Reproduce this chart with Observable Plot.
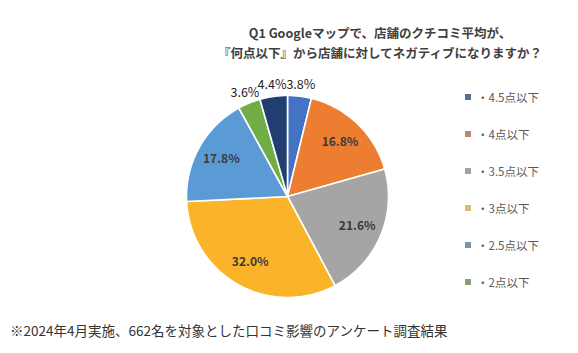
<!DOCTYPE html>
<html>
<head>
<meta charset="utf-8">
<script src="https://cdn.jsdelivr.net/npm/d3@7"></script>
<script src="https://cdn.jsdelivr.net/npm/@observablehq/plot@0.6"></script>
<style>
  html, body { margin: 0; padding: 0; background: #fff; }
  #wrap { position: relative; width: 578px; height: 353px; overflow: hidden; font-family: "Noto Sans CJK JP", "Noto Sans", sans-serif; }
  #title { position: absolute; left: 180px; width: 400px; top: 23px; text-align: center; font-size: 12.5px; font-weight: bold; color: #404040; line-height: 20px; }
  #legend { position: absolute; left: 465px; top: 89px; }
  .li { height: 37px; display: flex; align-items: flex-start; font-size: 11.5px; color: #595959; line-height: 16px; }
  .sw { width: 6px; height: 6px; margin-top: 5px; margin-right: 6px; }
  #caption { position: absolute; left: 10px; top: 320px; font-size: 13.5px; color: #333; }
  #chart { position: absolute; left: 0; top: 0; }
</style>
</head>
<body>
<div id="wrap">
  <div id="chart"></div>
  <div id="title"></div>
  <div id="legend"></div>
  <div id="caption"></div>
</div>
<script>
const titleLines = ["Q1 Googleマップで、店舗のクチコミ平均が、", "『何点以下』から店舗に対してネガティブになりますか？"];
const caption = "※2024年4月実施、662名を対象とした口コミ影響のアンケート調査結果";
const categories = ["4.5点以下", "4点以下", "3.5点以下", "3点以下", "2.5点以下", "2点以下", "その他"];
const values = [3.8, 16.8, 21.6, 32.0, 17.8, 3.6, 4.4];
const sliceColors = ["#4472C4", "#ED7D31", "#A5A5A5", "#FBB42A", "#5B9BD5", "#70AD47", "#203F70"];
const legendColors = ["#56708f", "#b9896f", "#a3a3a3", "#d9bd79", "#7a93ac", "#86a06c"];
const legendCount = 6;

// build slice polygons in unit-circle coordinates (clockwise from 12 o'clock)
const total = d3.sum(values);
const polys = [];
const labels = [];
let acc = 0;
values.forEach((v, i) => {
  const a0 = acc / total * 2 * Math.PI;
  acc += v;
  const a1 = acc / total * 2 * Math.PI;
  const n = Math.max(2, Math.ceil((a1 - a0) / (Math.PI / 180)));
  polys.push({cat: categories[i], x: 0, y: 0});
  for (let k = 0; k <= n; k++) {
    const a = a0 + (a1 - a0) * k / n;
    polys.push({cat: categories[i], x: Math.sin(a), y: Math.cos(a)});
  }
  polys.push({cat: categories[i], x: 0, y: 0});
  const am = (a0 + a1) / 2;
  const outside = v < 5;
  const r = outside ? 1.11 : 0.75;
  labels.push({cat: categories[i], outside, x: r * Math.sin(am), y: r * Math.cos(am), text: v.toFixed(1) + "%"});
});

const cx = 287, cy = 196, R = 101;
const chart = Plot.plot({
  width: 578,
  height: 353,
  margin: 0,
  x: {domain: [-1, 1], range: [cx - R, cx + R], axis: null},
  y: {domain: [-1, 1], range: [cy + R, cy - R], axis: null},
  color: {domain: categories, range: sliceColors},
  style: {fontFamily: "'Noto Sans CJK JP', 'Noto Sans', sans-serif", background: "transparent"},
  marks: [
    Plot.line(polys, {x: "x", y: "y", z: "cat", fill: "cat", stroke: "white", strokeWidth: 1.6, strokeLinejoin: "round", curve: "linear"}),
    Plot.text(labels.filter(d => !d.outside), {x: "x", y: "y", text: "text", fill: "#3a3a3a", fontSize: 12, fontWeight: "bold"}),
    Plot.text(labels.filter(d => d.outside), {x: "x", y: "y", text: "text", fill: "#262626", fontSize: 12.5, fontWeight: "normal"})
  ]
});
document.getElementById("chart").appendChild(chart);

document.getElementById("title").innerHTML = titleLines.map(t => `<div>${t}</div>`).join("");
document.getElementById("caption").textContent = caption;
const lg = document.getElementById("legend");
categories.slice(0, legendCount).forEach((c, i) => {
  const d = document.createElement("div");
  d.className = "li";
  d.innerHTML = `<span class="sw" style="background:${legendColors[i]}"></span><span>・${c}</span>`;
  lg.appendChild(d);
});
</script>
</body>
</html>
